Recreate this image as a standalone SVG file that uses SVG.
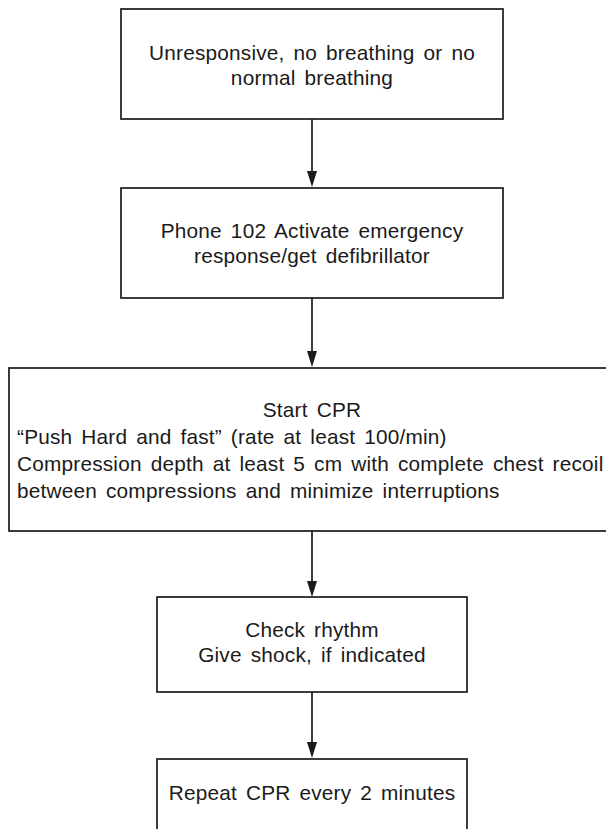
<svg xmlns="http://www.w3.org/2000/svg" width="606" height="829" viewBox="0 0 606 829">
  <defs>
    <style>
      .box { fill: #ffffff; stroke: #1a1a1a; stroke-width: 1.7; }
      .lbl { font-family: "Liberation Sans", Arial, Helvetica, sans-serif; font-size: 20.8px; fill: #1a1a1a; letter-spacing: 0.2px; word-spacing: 3px; }
      .mid { text-anchor: middle; }
      .edge { stroke: #1a1a1a; stroke-width: 1.7; fill: none; }
      .head { fill: #1a1a1a; }
    </style>
  </defs>
  <rect width="606" height="829" fill="#ffffff"/>

  <!-- vertical connectors with filled arrowheads -->
  <g id="connectors">
    <path class="edge" d="M312,119 V172"/>
    <path class="head" d="M307,171 L317,171 L312,187 Z"/>
    <path class="edge" d="M312,298 V352"/>
    <path class="head" d="M307,351 L317,351 L312,367 Z"/>
    <path class="edge" d="M312,531 V582"/>
    <path class="head" d="M307,581 L317,581 L312,597 Z"/>
    <path class="edge" d="M312,692 V743"/>
    <path class="head" d="M307,742 L317,742 L312,758 Z"/>
  </g>

  <g id="unresponsive">
    <rect class="box" x="121" y="9" width="382" height="110"/>
    <text class="lbl mid" x="312" y="60">Unresponsive, no breathing or no</text>
    <text class="lbl mid" x="312" y="85">normal breathing</text>
  </g>

  <g id="activate">
    <rect class="box" x="121" y="188" width="382" height="110"/>
    <text class="lbl mid" x="312" y="238">Phone 102 Activate emergency</text>
    <text class="lbl mid" x="312" y="263">response/get defibrillator</text>
  </g>

  <g id="start-cpr">
    <rect class="box" x="9" y="368" width="610" height="163"/>
    <text class="lbl mid" x="312" y="417">Start CPR</text>
    <text class="lbl" x="17" y="444">“Push Hard and fast” (rate at least 100/min)</text>
    <text class="lbl" x="17" y="471">Compression depth at least 5 cm with complete chest recoil</text>
    <text class="lbl" x="17" y="498">between compressions and minimize interruptions</text>
  </g>

  <g id="check-rhythm">
    <rect class="box" x="157" y="597" width="310" height="95"/>
    <text class="lbl mid" x="312" y="637">Check rhythm</text>
    <text class="lbl mid" x="312" y="662">Give shock, if indicated</text>
  </g>

  <g id="repeat-cpr">
    <rect class="box" x="157" y="759" width="310" height="90"/>
    <text class="lbl mid" x="312" y="800">Repeat CPR every 2 minutes</text>
  </g>
</svg>
